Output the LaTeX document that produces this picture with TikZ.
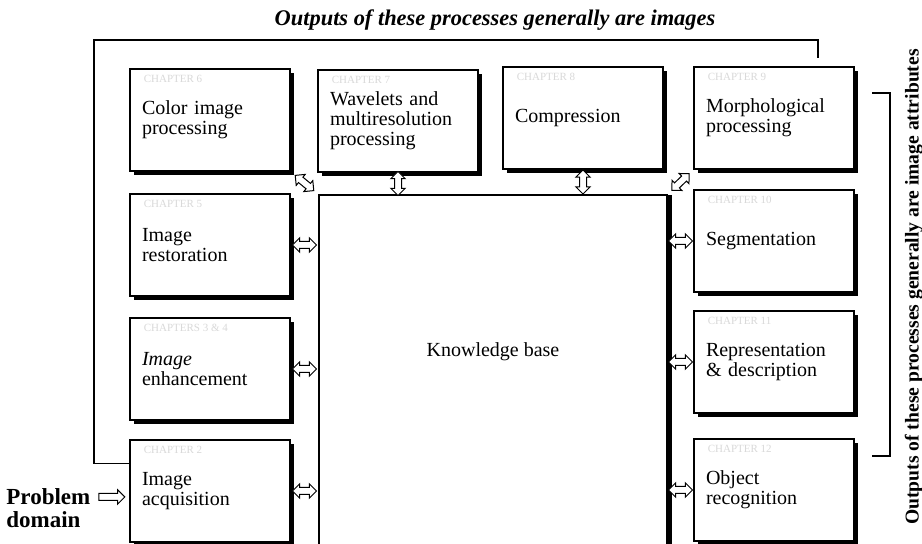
\documentclass[tikz,border=0pt]{standalone}
\usepackage{fontspec}
\setmainfont{Liberation Serif}
\usetikzlibrary{shapes.arrows,shadows}

\tikzset{
  procbox/.style={draw, line width=0.6pt, fill=white, minimum width=80pt, minimum height=51pt,
    text width=68pt, inner xsep=6pt, align=left, font=\fontsize{10}{10}\selectfont,
    drop shadow={shadow xshift=2pt, shadow yshift=-2pt, fill=black, opacity=1}},
  kbbox/.style={draw, line width=0.6pt, fill=white, minimum width=174pt, minimum height=205pt,
    drop shadow={shadow xshift=2.5pt, shadow yshift=0pt, fill=black, opacity=1}},
  chaplbl/.style={anchor=north west, xshift=7pt, yshift=-3pt, inner sep=0pt,
    font=\fontsize{5.5}{6}\selectfont, text=black!15},
  dblarr/.style={double arrow, draw, line width=0.5pt, fill=white, sloped, minimum height=12pt,
    inner xsep=0pt, inner ysep=1.5pt, double arrow head extend=1.8pt},
  sglarr/.style={single arrow, draw, line width=0.5pt, fill=white, sloped, minimum height=13pt,
    inner xsep=0pt, inner ysep=1.5pt, single arrow head extend=1.8pt},
  bracket/.style={line width=0.6pt}
}

\begin{document}
\begin{tikzpicture}[x=0.5pt,y=-0.5pt]
  \useasboundingbox (0,0) rectangle (922,544);
  \fill[white] (0,0) rectangle (922,544);
  \clip (0,0) rectangle (922,544);

  % headings
  \node[font=\fontsize{11.2}{13}\selectfont\bfseries\itshape] (toptitle) at (495,20)
    {Outputs of these processes generally are images};
  \node[font=\fontsize{9.8}{11}\selectfont\bfseries, rotate=90] (sidetitle) at (914,287)
    {Outputs of these processes generally are image attributes};

  % knowledge base
  \node[kbbox] (kb) at (493,400) {};
  \node[font=\fontsize{10}{12}\selectfont] (kbtext) at (493,352) {Knowledge base};

  % top row
  \node[procbox, label={[chaplbl]north west:CHAPTER 6}] (color) at (210,120) {Color image\\processing};
  \node[procbox, label={[chaplbl]north west:CHAPTER 7}] (wave) at (398,121) {Wavelets and\\multiresolution\\processing};
  \node[procbox, label={[chaplbl]north west:CHAPTER 8}] (comp) at (583,118) {Compression};
  \node[procbox, label={[chaplbl]north west:CHAPTER 9}] (morph) at (774,118) {Morphological\\processing};
  % left column
  \node[procbox, label={[chaplbl]north west:CHAPTER 5}] (rest) at (210,245) {Image\\restoration};
  \node[procbox, label={[chaplbl]north west:CHAPTERS 3 \& 4}] (enh) at (210,369) {\textit{Image}\\enhancement};
  \node[procbox, label={[chaplbl]north west:CHAPTER 2}] (acq) at (210,491) {Image\\acquisition};
  % right column
  \node[procbox, label={[chaplbl]north west:CHAPTER 10}] (seg) at (774,241) {Segmentation};
  \node[procbox, label={[chaplbl]north west:CHAPTER 11}] (rep) at (774,362) {Representation\\\& description};
  \node[procbox, label={[chaplbl]north west:CHAPTER 12}] (obj) at (774,490) {Object\\recognition};

  % brackets
  \draw[bracket] ([yshift=-12pt]acq.north west) -| (94,40) -| (818,58);
  \draw[bracket] (872,93) -| (890,456) -- (872,456);

  % problem domain
  \node[font=\fontsize{11.5}{11.5}\selectfont\bfseries, align=left, anchor=west, inner sep=0pt] (prob) at (6,508)
    {Problem\\domain};
  \path (prob.east |- 0,497) -- (acq.west |- 0,497) node[midway, sglarr] {};

  % arrows to the knowledge base
  \path (color.south east) -- (kb.north west) node[midway, dblarr] {};
  \path (wave.south) -- (wave.south |- kb.north) node[midway, dblarr] {};
  \path (comp.south) -- (comp.south |- kb.north) node[midway, dblarr] {};
  \path (morph.south west) -- (kb.north east) node[midway, dblarr] {};
  \foreach \n in {rest,enh,acq}
    \path (\n.east) -- (\n.east -| kb.west) node[midway, dblarr] {};
  \foreach \n in {seg,rep,obj}
    \path (\n.west -| kb.east) -- (\n.west) node[midway, dblarr] {};
\end{tikzpicture}
\end{document}
